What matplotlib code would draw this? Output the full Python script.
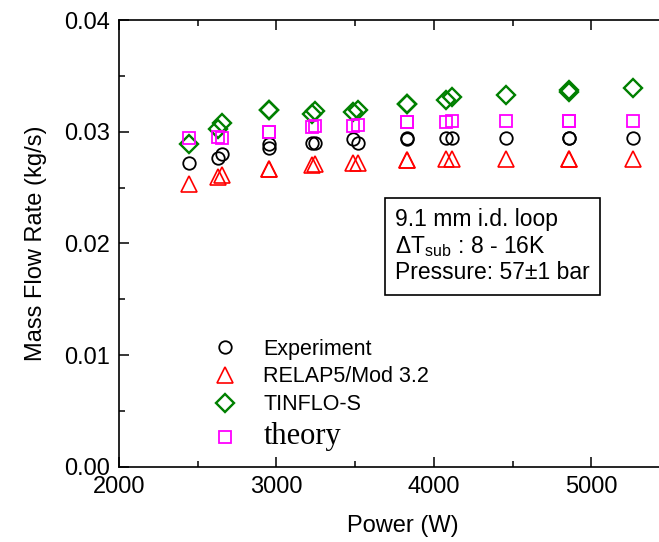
import matplotlib
matplotlib.use("Agg")
import matplotlib.pyplot as plt
from matplotlib.ticker import MultipleLocator

plt.rcParams['font.family'] = ['Liberation Sans', 'DejaVu Sans']

# power (W), shared by all four series
power = [2444, 2631, 2656, 2955, 2955, 3223, 3244, 3488, 3519,
         3831, 3831, 4080, 4118, 4455, 4859, 4859, 5262]

experiment = [0.02724, 0.02762, 0.02798, 0.02894, 0.02852, 0.02903, 0.02903, 0.02933, 0.02903,
              0.02948, 0.02933, 0.02948, 0.02948, 0.02948, 0.02948, 0.02948, 0.02948]
relap = [0.02535, 0.02595, 0.02610, 0.02664, 0.02664, 0.02700, 0.02709, 0.02717, 0.02724,
         0.02744, 0.02744, 0.02753, 0.02760, 0.02760, 0.02760, 0.02760, 0.02760]
tinflo = [0.02888, 0.03022, 0.03082, 0.03193, 0.03193, 0.03163, 0.03181, 0.03178, 0.03193,
          0.03247, 0.03247, 0.03285, 0.03307, 0.03330, 0.03375, 0.03352, 0.03388]
theory = [0.02948, 0.02957, 0.02948, 0.02993, 0.02993, 0.03043, 0.03052, 0.03052, 0.03058,
          0.03088, 0.03088, 0.03088, 0.03097, 0.03097, 0.03097, 0.03097, 0.03097]

labels = ['Experiment', 'RELAP5/Mod 3.2', 'TINFLO-S', 'theory']

fig = plt.figure(figsize=(6.59, 5.42), dpi=100)
# axes runs past the right edge, like the cropped original
ax = fig.add_axes([0.1806, 0.1390, 0.860, 0.8240])

ax.plot(power, experiment, 'o', ms=9, mfc='none', mec='black', mew=1.3, label=labels[0])
ax.plot(power, relap, '^', ms=11, mfc='none', mec='red', mew=1.2, label=labels[1])
ax.plot(power, tinflo, 'D', ms=9, mfc='none', mec='green', mew=1.7, label=labels[2])
ax.plot(power, theory, 's', ms=8.5, mfc='none', mec='magenta', mew=1.3, label=labels[3])

ax.set_xlim(2000, 5600)
ax.set_ylim(0, 0.04)
ax.xaxis.set_major_locator(MultipleLocator(1000))
ax.xaxis.set_minor_locator(MultipleLocator(500))
ax.yaxis.set_major_locator(MultipleLocator(0.01))
ax.yaxis.set_minor_locator(MultipleLocator(0.005))
ax.yaxis.set_major_formatter(matplotlib.ticker.FormatStrFormatter('%.2f'))

ax.tick_params(which='both', direction='in', top=True, right=False, width=1.1, labelsize=17)
ax.tick_params(which='major', length=7)
ax.tick_params(which='minor', length=4)
ax.tick_params(axis='y', which='major', pad=6.5)
ax.tick_params(axis='x', which='major', pad=7)
ax.spines['right'].set_visible(False)
for s in ['left', 'bottom', 'top']:
    ax.spines[s].set_linewidth(1.2)

ax.set_xlabel('Power (W)', fontsize=17, labelpad=12)
ax.set_ylabel('Mass Flow Rate (kg/s)', fontsize=17, labelpad=12)

leg = ax.legend(loc='upper left', bbox_to_anchor=(0.152, 0.306), frameon=False,
                fontsize=15.5, handlelength=1.0, handletextpad=1.3, labelspacing=0.32,
                borderaxespad=0)
leg.get_texts()[3].set_fontfamily('Liberation Serif')
leg.get_texts()[3].set_fontsize(22)

fig.text(395 / 659, 1 - 208 / 542,
         '9.1 mm i.d. loop\nΔT$_{\\mathregular{sub}}$ : 8 - 16K\nPressure: 57±1 bar',
         fontsize=16.5, va='top', ha='left', linespacing=1.15,
         bbox=dict(boxstyle='square,pad=0.45', fc='white', ec='black', lw=1.2))

fig.savefig('out.png', dpi=100)
